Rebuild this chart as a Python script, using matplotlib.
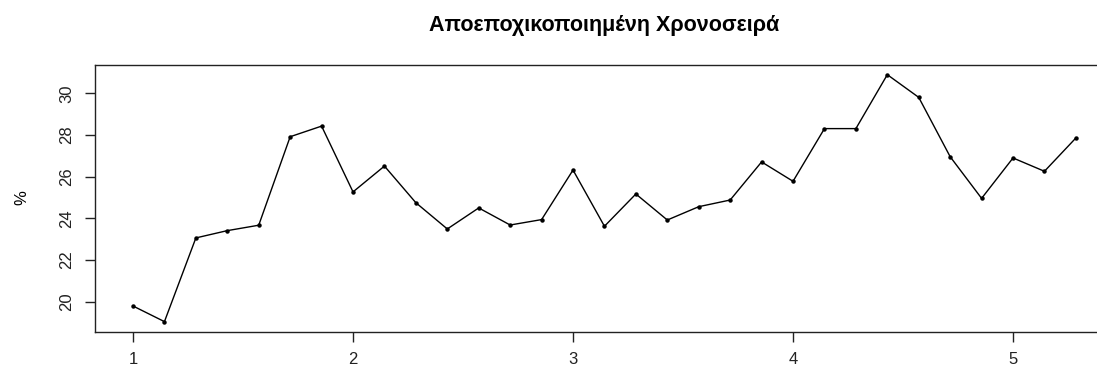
import matplotlib
matplotlib.use("Agg")
import matplotlib.pyplot as plt
import numpy as np

plt.rcParams['font.family'] = ['Liberation Sans', 'DejaVu Sans']

start = 1.0
freq = 7
values = [19.79, 19.04, 23.06, 23.41, 23.67, 27.92, 28.43, 25.27, 26.51, 24.75,
          23.49, 24.50, 23.68, 23.94, 26.32, 23.62, 25.17, 23.92, 24.56, 24.88,
          26.71, 25.78, 28.31, 28.31, 30.90, 29.81, 26.96, 24.96, 26.90, 26.26,
          27.86]
x_ticks = [1, 2, 3, 4, 5]
y_ticks = [20, 22, 24, 26, 28, 30]
title = "Αποεποχικοποιημένη Χρονοσειρά"
ylabel = "%"

t = start + np.arange(len(values)) / freq
W, H = 1097, 371
fig = plt.figure(figsize=(W / 100, H / 100), dpi=100)

left, right, top, bottom = 95.3, 1113.6, 64.8, 331.5
ax = fig.add_axes([left / W, 1 - bottom / H, (right - left) / W, (bottom - top) / H])

ax.plot(t, values, color='black', linewidth=1.0, marker='o', markersize=2.2)

xr = t[-1] - t[0]
ax.set_xlim(t[0] - 0.04 * xr, t[-1] + 0.04 * xr)
yr = max(values) - min(values)
ax.set_ylim(min(values) - 0.04 * yr, max(values) + 0.04 * yr)

ax.set_xticks(x_ticks)
ax.set_xticklabels([str(v) for v in x_ticks])
ax.set_yticks(y_ticks)
ax.set_yticklabels([str(v) for v in y_ticks], rotation=90, va='center')
ax.tick_params(direction='out', length=7, width=1, labelsize=12, pad=8, colors='#222222', labelcolor='#222222')
for s in ax.spines.values():
    s.set_linewidth(1.0)
    s.set_color('#222222')

fig.text(604 / W, 1 - 25 / H, title, ha='center', va='center', fontsize=15.5, fontweight='bold')
fig.text(22 / W, 1 - 198 / H, ylabel, ha='center', va='center', fontsize=12, rotation=90)

fig.savefig("out.png", dpi=100)
